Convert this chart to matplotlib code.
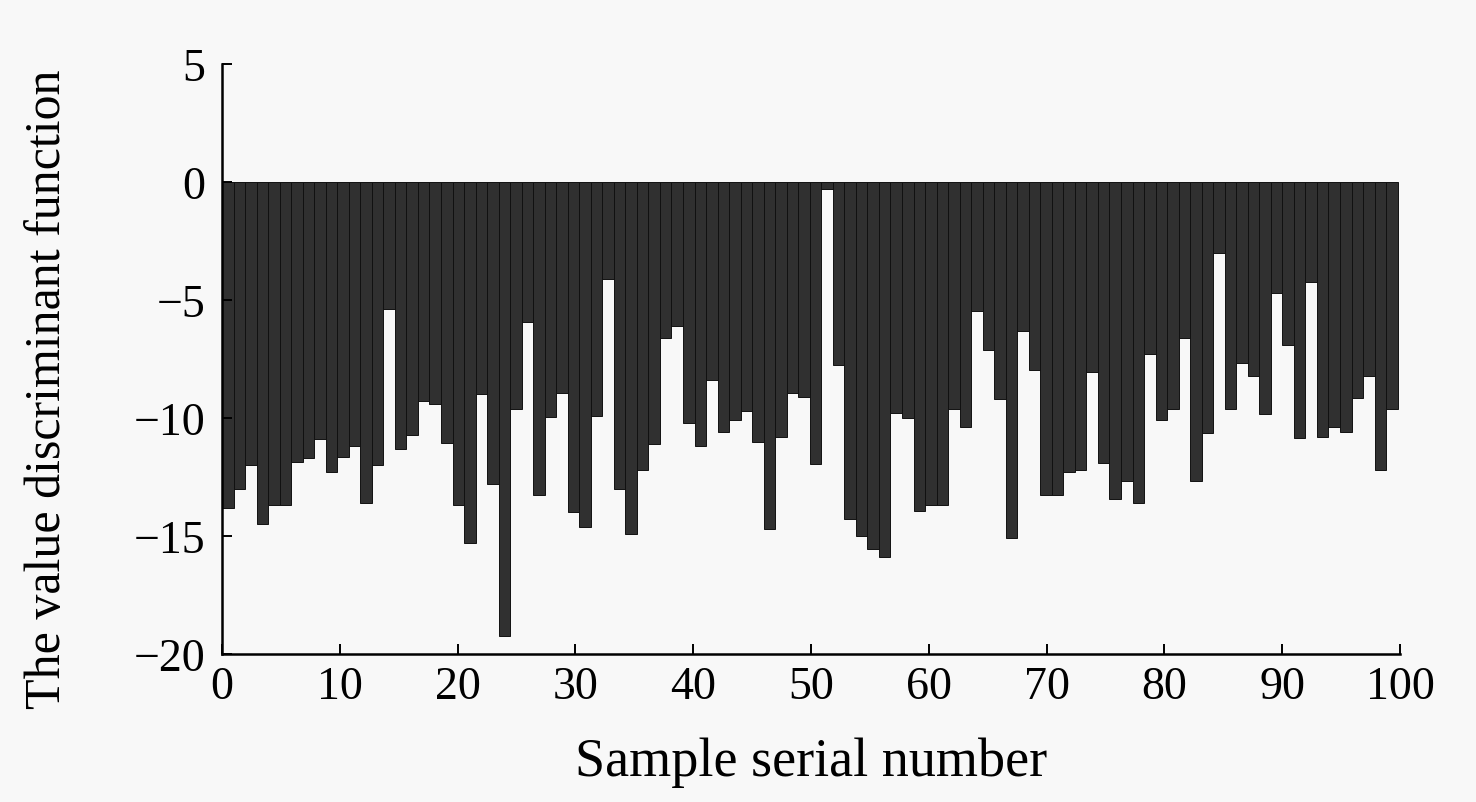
import numpy as np
import matplotlib
matplotlib.use('Agg')
import matplotlib.pyplot as plt

# discriminant value of each sample
values = [-13.8, -13.0, -12.0, -14.5, -13.7, -13.7, -11.85, -11.7, -10.9, -12.3,
          -11.65, -11.2, -13.6, -12.0, -5.4, -11.3, -10.7, -9.3, -9.4, -11.05,
          -13.7, -15.3, -9.0, -12.8, -19.25, -9.6, -5.95, -13.25, -9.95, -8.95,
          -14.0, -14.6, -9.9, -4.1, -13.0, -14.9, -12.2, -11.1, -6.6, -6.1,
          -10.2, -11.2, -8.4, -10.6, -10.1, -9.7, -11.0, -14.7, -10.8, -8.95,
          -9.1, -11.95, -0.3, -7.75, -14.3, -15.0, -15.55, -15.9, -9.8, -10.0,
          -13.95, -13.7, -13.7, -9.6, -10.4, -5.45, -7.1, -9.2, -15.1, -6.3,
          -7.95, -13.25, -13.25, -12.3, -12.2, -8.05, -11.9, -13.45, -12.65, -13.6,
          -7.3, -10.1, -9.6, -6.6, -12.65, -10.65, -3.0, -9.6, -7.65, -8.2,
          -9.85, -4.7, -6.9, -10.85, -4.25, -10.8, -10.4, -10.6, -9.15, -8.2,
          -12.2, -9.6]
xticks = [0, 10, 20, 30, 40, 50, 60, 70, 80, 90, 100]
yticks = [-20, -15, -10, -5, 0, 5]

plt.rcParams['font.family'] = ['Liberation Serif', 'DejaVu Serif']

n = len(values)
step = 99.8 / n
xpos = np.arange(n) * step

fig = plt.figure(figsize=(14.76, 8.03), dpi=100, facecolor='#f8f8f8')
ax = fig.add_axes([0.1504, 0.1843, 0.7981, 0.7348])
ax.set_facecolor('#f8f8f8')

ax.bar(xpos, values, width=step, align='edge', color='#303030',
       edgecolor='#111111', linewidth=0.7)

ax.set_xlim(0, 100)
ax.set_ylim(-20, 5)
ax.set_xticks(xticks)
ax.set_yticks(yticks)
ax.tick_params(direction='in', length=7, width=1.4, labelsize=33)
ax.tick_params(axis='x', pad=8)
ax.tick_params(axis='y', pad=12)

for side in ['top', 'right']:
    ax.spines[side].set_visible(False)
for side in ['left', 'bottom']:
    ax.spines[side].set_linewidth(1.8)

ax.set_xlabel('Sample serial number', fontsize=39)
ax.set_ylabel('The value discriminant function', fontsize=36)
ax.xaxis.set_label_coords(0.5, -0.14)
ax.yaxis.set_label_coords(-0.128, 0.45)

fig.savefig('out.png', dpi=100, facecolor=fig.get_facecolor())
